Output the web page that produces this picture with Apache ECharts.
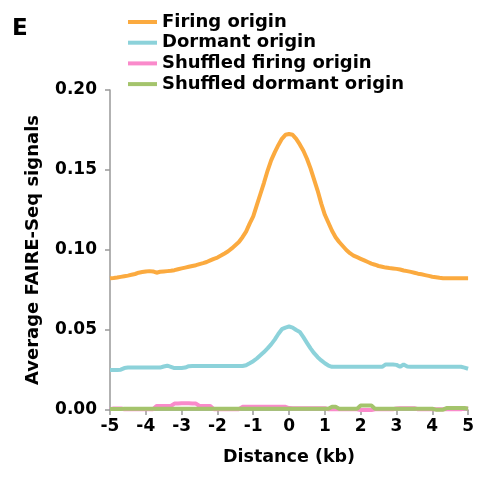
<!DOCTYPE html>
<html>
<head>
<meta charset="utf-8">
<script src="https://cdn.jsdelivr.net/npm/echarts@6/dist/echarts.min.js"></script>
<style>html,body{margin:0;padding:0;background:#fff}#c{width:477px;height:477px}</style>
</head>
<body>
<div id="c"></div>
<script>
// Distance (kb) from -5 to 5 in 0.1 kb steps
const distances = Array.from({length: 101}, (_, i) => +(-5 + i * 0.1).toFixed(1));

const firingOrigin = [
0.0823,0.0825,0.0828,0.0832,0.0836,0.0840,0.0845,0.0850,0.0858,0.0862,
0.0866,0.0868,0.0866,0.0858,0.0864,0.0866,0.0868,0.0870,0.0874,0.0880,
0.0885,0.0890,0.0895,0.0900,0.0905,0.0912,0.0918,0.0925,0.0935,0.0945,
0.0953,0.0965,0.0978,0.0992,0.1010,0.1030,0.1050,0.1080,0.1115,0.1165,
0.1210,0.1280,0.1350,0.1420,0.1495,0.1560,0.1610,0.1655,0.1695,0.1720,
0.1725,
0.1720,0.1695,0.1660,0.1620,0.1570,0.1510,0.1440,0.1370,0.1290,0.1220,
0.1170,0.1120,0.1080,0.1050,0.1025,0.1000,0.0980,0.0965,0.0955,0.0945,
0.0935,0.0925,0.0915,0.0908,0.0900,0.0895,0.0890,0.0887,0.0885,0.0882,
0.0878,0.0872,0.0868,0.0863,0.0858,0.0852,0.0848,0.0843,0.0838,0.0833,
0.0830,0.0826,0.0823,0.0823,0.0823,0.0823,0.0823,0.0823,0.0823,0.0823
];

const dormantOrigin = [
0.0250,0.0250,0.0250,0.0252,0.0262,0.0265,0.0265,0.0265,0.0265,0.0265,
0.0265,0.0265,0.0265,0.0265,0.0265,0.0272,0.0277,0.0270,0.0262,0.0262,
0.0262,0.0265,0.0274,0.0275,0.0275,0.0275,0.0275,0.0275,0.0275,0.0275,
0.0275,0.0275,0.0275,0.0275,0.0275,0.0275,0.0275,0.0275,0.0280,0.0292,
0.0305,0.0322,0.0342,0.0362,0.0385,0.0410,0.0440,0.0475,0.0505,0.0515,
0.0522,
0.0515,0.0500,0.0488,0.0455,0.0420,0.0385,0.0355,0.0330,0.0310,0.0292,
0.0278,0.0270,0.0270,0.0270,0.0270,0.0270,0.0270,0.0270,0.0270,0.0270,
0.0270,0.0270,0.0270,0.0270,0.0270,0.0270,0.0285,0.0285,0.0285,0.0282,
0.0270,0.0284,0.0272,0.0270,0.0270,0.0270,0.0270,0.0270,0.0270,0.0270,
0.0270,0.0270,0.0270,0.0270,0.0270,0.0270,0.0270,0.0270,0.0265,0.0258
];

const shuffledFiring = [
0.0005,0.0010,0.0010,0.0010,0.0005,0.0005,0.0005,0.0005,0.0005,0.0005,
0.0005,0.0005,0.0005,0.0025,0.0025,0.0025,0.0025,0.0025,0.0040,0.0040,
0.0042,0.0042,0.0042,0.0040,0.0040,0.0025,0.0025,0.0025,0.0025,0.0005,
0.0005,0.0005,0.0005,0.0005,0.0005,0.0005,0.0005,0.0020,0.0020,0.0020,
0.0020,0.0020,0.0020,0.0020,0.0020,0.0020,0.0020,0.0020,0.0020,0.0020,
0.0012,
0.0011,0.0011,0.0011,0.0011,0.0011,0.0011,0.0011,0.0011,0.0011,0.0011,
0.0005,0.0005,0.0005,0.0005,0.0005,0.0005,0.0005,0.0005,0.0005,0.0000,
0.0000,0.0000,0.0000,0.0005,0.0005,0.0005,0.0005,0.0005,0.0005,0.0010,
0.0011,0.0011,0.0011,0.0011,0.0011,0.0005,0.0005,0.0005,0.0005,0.0005,
0.0005,0.0005,0.0005,0.0005,0.0005,0.0005,0.0005,0.0005,0.0010,0.0010
];

const shuffledDormant = [
0.0006,0.0006,0.0006,0.0007,0.0008,0.0008,0.0008,0.0008,0.0008,0.0008,
0.0008,0.0008,0.0008,0.0008,0.0008,0.0008,0.0008,0.0008,0.0008,0.0008,
0.0008,0.0008,0.0008,0.0008,0.0008,0.0008,0.0008,0.0008,0.0008,0.0008,
0.0008,0.0008,0.0008,0.0008,0.0008,0.0008,0.0008,0.0008,0.0008,0.0008,
0.0008,0.0008,0.0008,0.0008,0.0008,0.0008,0.0008,0.0008,0.0008,0.0008,
0.0008,
0.0008,0.0008,0.0008,0.0008,0.0008,0.0008,0.0008,0.0008,0.0008,0.0008,
0.0008,0.0020,0.0020,0.0008,0.0008,0.0008,0.0008,0.0008,0.0008,0.0028,
0.0028,0.0028,0.0028,0.0008,0.0008,0.0008,0.0008,0.0008,0.0008,0.0008,
0.0008,0.0008,0.0008,0.0008,0.0008,0.0008,0.0008,0.0008,0.0008,0.0008,
0.0002,0.0002,0.0002,0.0012,0.0012,0.0012,0.0012,0.0012,0.0012,0.0008
];

const yTicks = [0, 0.05, 0.10, 0.15, 0.20];
const xTicks = [-5, -4, -3, -2, -1, 0, 1, 2, 3, 4, 5];

const seriesNames = ['Firing origin', 'Dormant origin', 'Shuffled firing origin', 'Shuffled dormant origin'];
const seriesData = [firingOrigin, dormantOrigin, shuffledFiring, shuffledDormant];
const colors = ['#FBAA3F', '#8CD2DA', '#FA8ACB', '#A4C46C'];

const FONT = '"DejaVu Sans", "Liberation Sans", Arial, sans-serif';
const chart = echarts.init(document.getElementById('c'), null, {renderer: 'canvas'});

chart.setOption({
  animation: false,
  backgroundColor: '#fff',
  title: {
    text: 'E', left: 7, top: 13,
    textStyle: {fontFamily: FONT, fontWeight: 'bold', fontSize: 23, color: '#000'}
  },
  legend: {
    orient: 'vertical', left: 123, top: 8,
    icon: 'rect',
    itemWidth: 29, itemHeight: 4, itemGap: 2.7,
    data: seriesNames,
    textStyle: {fontFamily: FONT, fontWeight: 'bold', fontSize: 18, color: '#000', lineHeight: 18}
  },
  grid: {left: 110, right: 7, top: 90, bottom: 67, containLabel: false},
  xAxis: {
    type: 'value', min: -5, max: 5, interval: 1,
    name: 'Distance (kb)', nameLocation: 'middle', nameGap: 38,
    nameTextStyle: {fontFamily: FONT, fontWeight: 'bold', fontSize: 17.5, color: '#000'},
    axisLine: {show: true, onZero: false, lineStyle: {color: '#999', width: 1.5}},
    axisTick: {show: true, inside: false, length: 5, lineStyle: {color: '#999', width: 1.5}},
    axisLabel: {fontFamily: FONT, fontWeight: 'bold', fontSize: 17, color: '#000', margin: 8,
      formatter: v => xTicks.includes(v) ? String(v) : ''},
    splitLine: {show: false}
  },
  yAxis: {
    type: 'value', min: 0, max: 0.2, interval: 0.05,
    name: 'Average FAIRE-Seq signals', nameLocation: 'middle', nameGap: 68,
    nameTextStyle: {fontFamily: FONT, fontWeight: 'bold', fontSize: 18, color: '#000'},
    axisLine: {show: true, onZero: false, lineStyle: {color: '#999', width: 1.5}},
    axisTick: {show: true, inside: false, length: 5, lineStyle: {color: '#999', width: 1.5}},
    axisLabel: {fontFamily: FONT, fontWeight: 'bold', fontSize: 17, color: '#000', margin: 13,
      formatter: v => yTicks.some(t => Math.abs(t - v) < 1e-9) ? v.toFixed(2) : ''},
    splitLine: {show: false}
  },
  series: seriesNames.map((name, k) => ({
    name, type: 'line',
    data: distances.map((d, i) => [d, seriesData[k][i]]),
    symbol: 'none', smooth: false,
    color: colors[k],
    lineStyle: {color: colors[k], width: 4},
    z: 2 + k
  }))
});
</script>
</body>
</html>
